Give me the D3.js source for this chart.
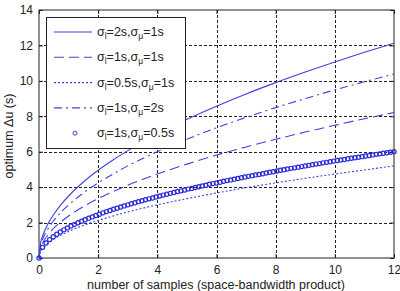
<!DOCTYPE html>
<html>
<head>
<meta charset="utf-8">
<script src="https://cdn.jsdelivr.net/npm/d3@7"></script>
<style>
body{margin:0;background:#fff;}
text{font-family:"Liberation Sans",Arial,sans-serif;}
</style>
</head>
<body>
<script>
// sample positions for the line curves
var lineX=[0,0.05,0.15,0.3,0.5,0.75,1,1.5,2,2.5,3,4,5,6,7,8,9,10,11,12];
var s2_1=[0,0.78,1.36,1.92,2.47,3.03,3.5,4.29,4.95,5.53,6.06,7.0,7.83,8.57,9.26,9.90,10.5,11.07,11.61,12.12];
var s1_1=[0,0.53,0.92,1.30,1.68,2.05,2.37,2.90,3.35,3.75,4.11,4.74,5.30,5.81,6.27,6.70,7.11,7.49,7.86,8.21];
var s05_1=[0,0.34,0.58,0.82,1.06,1.30,1.5,1.84,2.12,2.37,2.60,3.0,3.35,3.67,3.97,4.24,4.5,4.74,4.97,5.20];
var s1_2=[0,0.67,1.16,1.64,2.12,2.60,3.0,3.67,4.24,4.74,5.20,6.0,6.71,7.35,7.94,8.49,9.0,9.49,9.95,10.39];
// circle series, one point every 0.12
var s1_05=[0,0.60,0.85,1.04,1.20,1.34,1.47,1.59,1.70,1.80,1.90,1.99,2.08,2.16,2.25,2.32,2.40,2.47,2.55,2.62,
2.68,2.75,2.81,2.88,2.94,3.00,3.06,3.12,3.18,3.23,3.29,3.34,3.39,3.45,3.50,3.55,3.60,3.65,3.70,3.75,
3.79,3.84,3.89,3.93,3.98,4.02,4.07,4.11,4.16,4.20,4.24,4.28,4.33,4.37,4.41,4.45,4.49,4.53,4.57,4.61,
4.65,4.69,4.72,4.76,4.80,4.84,4.87,4.91,4.95,4.98,5.02,5.06,5.09,5.13,5.16,5.20,5.23,5.27,5.30,5.33,
5.37,5.40,5.43,5.47,5.50,5.53,5.56,5.60,5.63,5.66,5.69,5.72,5.76,5.79,5.82,5.85,5.88,5.91,5.94,5.97,6.00];
var circX=s1_05.map(function(d,i){return i*0.12;});
var xTicks=[0,2,4,6,8,10,12];
var yTicks=[0,2,4,6,8,10,12,14];
var legendNames=[["2s","1s"],["1s","1s"],["0.5s","1s"],["1s","2s"],["1s","0.5s"]];

var blue="#4040e0";
var svg=d3.select("body").append("svg").attr("width",400).attr("height",291);

var x=d3.scaleLinear().domain([0,12]).range([39,394]);
var y=d3.scaleLinear().domain([0,14]).range([258,10]);

// grid
var grid=svg.append("g").attr("stroke","#222").attr("stroke-width",1).attr("stroke-dasharray","3,2");
grid.selectAll(".gx").data(xTicks.slice(1,-1)).enter().append("line")
  .attr("x1",function(d){return Math.round(x(d))+0.5;}).attr("x2",function(d){return Math.round(x(d))+0.5;})
  .attr("y1",y(14)).attr("y2",y(0));
grid.selectAll(".gy").data(yTicks.slice(1,-1)).enter().append("line")
  .attr("y1",function(d){return Math.round(y(d))+0.5;}).attr("y2",function(d){return Math.round(y(d))+0.5;})
  .attr("x1",x(0)).attr("x2",x(12));

// axes
var xAxis=d3.axisBottom(x).tickValues(xTicks).tickSizeInner(-4).tickSizeOuter(0).tickPadding(7);
var yAxis=d3.axisLeft(y).tickValues(yTicks).tickSizeInner(-4).tickSizeOuter(0).tickPadding(6);
var gx=svg.append("g").attr("transform","translate(0,258)").call(xAxis);
var gy=svg.append("g").attr("transform","translate(39,0)").call(yAxis);
var gx2=svg.append("g").attr("transform","translate(0,10)").call(d3.axisTop(x).tickValues(xTicks).tickSizeInner(-4).tickSizeOuter(0).tickFormat(""));
var gy2=svg.append("g").attr("transform","translate(394,0)").call(d3.axisRight(y).tickValues(yTicks).tickSizeInner(-4).tickSizeOuter(0).tickFormat(""));
[gx,gy,gx2,gy2].forEach(function(g){
  g.select(".domain").remove();
  g.selectAll("text").attr("font-size",12).attr("fill","#222");
  g.selectAll("line").attr("stroke","#222");
});
svg.append("rect").attr("x",x(0)).attr("y",y(14)).attr("width",x(12)-x(0)).attr("height",y(0)-y(14))
  .attr("fill","none").attr("stroke","#222");

// curves
var line=d3.line().x(function(d){return x(d[0]);}).y(function(d){return y(d[1]);}).curve(d3.curveMonotoneX);
var series=[
  {v:s2_1,dash:null},
  {v:s1_1,dash:"10,5"},
  {v:s05_1,dash:"2,2"},
  {v:s1_2,dash:"8,4,2,4"}
];
series.forEach(function(s){
  svg.append("path").datum(lineX.map(function(d,i){return [d,s.v[i]];}))
    .attr("d",line).attr("fill","none").attr("stroke",blue).attr("stroke-width",1.1)
    .attr("stroke-dasharray",s.dash);
});
svg.append("g").selectAll("circle").data(s1_05).enter().append("circle")
  .attr("cx",function(d,i){return x(circX[i]);}).attr("cy",function(d){return y(d);})
  .attr("r",2.1).attr("fill","none").attr("stroke","#2a2ad8").attr("stroke-width",1.2);

// legend
var lg=svg.append("g");
lg.append("rect").attr("x",46.5).attr("y",17.5).attr("width",139).attr("height",131)
  .attr("fill","#fff").attr("stroke","#222");
var dashes=[null,"10,5","2,2","8,4,2,4"];
legendNames.forEach(function(n,i){
  var ly=32+i*25.3;
  if(i<4){
    lg.append("line").attr("x1",54).attr("x2",92).attr("y1",ly).attr("y2",ly)
      .attr("stroke",blue).attr("stroke-width",1.1).attr("stroke-dasharray",dashes[i]);
  } else {
    lg.append("circle").attr("cx",75).attr("cy",ly).attr("r",2).attr("fill","none").attr("stroke",blue);
  }
  var t=lg.append("text").attr("x",97).attr("y",ly+4).attr("font-size",12.5).attr("fill","#222");
  t.append("tspan").text("σ");
  t.append("tspan").attr("font-size",8.5).attr("dy",3).text("l");
  t.append("tspan").attr("dy",-3).text("="+n[0]+",σ");
  t.append("tspan").attr("font-size",8.5).attr("dy",3).text("μ");
  t.append("tspan").attr("dy",-3).text("="+n[1]);
});

// labels
svg.append("text").attr("x",216).attr("y",289).attr("text-anchor","middle").attr("font-size",12.5)
  .attr("fill","#222").text("number of samples (space-bandwidth product)");
svg.append("text").attr("transform","translate(13,136) rotate(-90)").attr("text-anchor","middle")
  .attr("font-size",12.5).attr("fill","#222").text("optimum Δu (s)");
</script>
</body>
</html>
